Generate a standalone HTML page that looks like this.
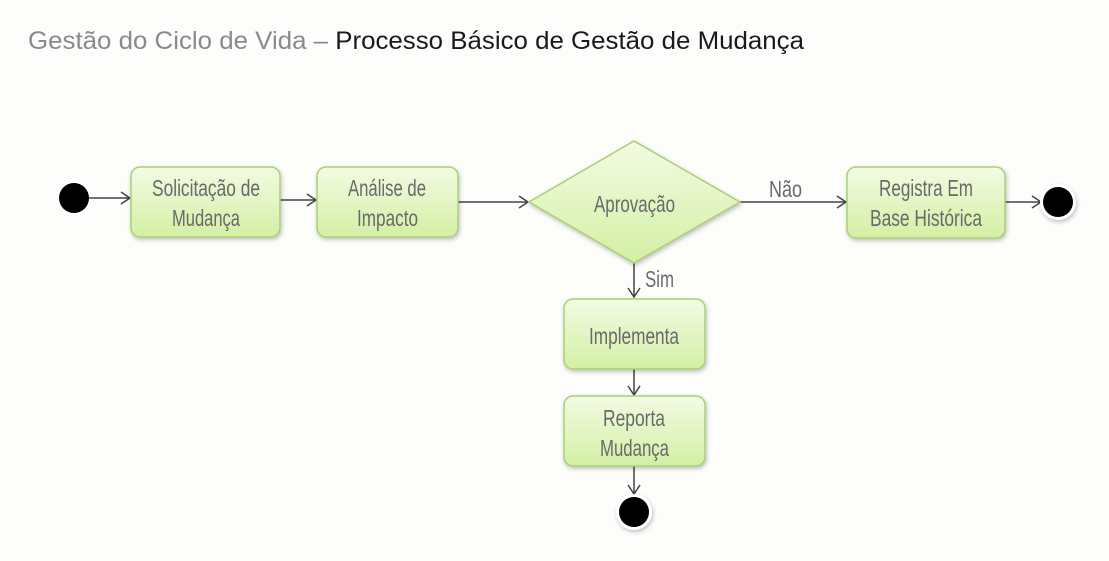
<!DOCTYPE html>
<html><head><meta charset="utf-8"><style>
html,body{margin:0;padding:0;background:#fdfdfb;}
svg{display:block;}
.t{font-family:"Liberation Sans Narrow","Liberation Sans",sans-serif;font-size:23px;fill:#6a6a6a;}
</style></head><body>
<svg width="1109" height="561" viewBox="0 0 1109 561" xmlns="http://www.w3.org/2000/svg">
<defs>
<linearGradient id="g" x1="0" y1="0" x2="0" y2="1">
<stop offset="0" stop-color="#f3fbe3"/><stop offset="1" stop-color="#d3efa4"/>
</linearGradient>
<filter id="s" x="-10%" y="-10%" width="130%" height="140%"><feDropShadow dx="1" dy="2" stdDeviation="2" flood-color="#000" flood-opacity="0.25"/></filter>
</defs>
<rect width="1109" height="561" fill="#fdfdfb"/>
<text x="28" y="49" font-family="Liberation Sans,sans-serif" font-size="25" textLength="776" lengthAdjust="spacingAndGlyphs"><tspan fill="#8a8a8a">Gestão do Ciclo de Vida – </tspan><tspan fill="#1a1a1a">Processo Básico de Gestão de Mudança</tspan></text>

<g stroke="#444" stroke-width="1.5" fill="none">
<path d="M89 198H130M121 192L130 198L121 204"/>
<path d="M280 200H316M307 194L316 200L307 206"/>
<path d="M458 202H528M519 196L528 202L519 208"/>
<path d="M740 202H846M837 196L846 202L837 208"/>
<path d="M1005 202H1041M1032 196L1041 202L1032 208"/>
<path d="M634 263V297M628 288L634 297L640 288"/>
<path d="M634 369V395M628 386L634 395L640 386"/>
<path d="M634 466V494M628 485L634 494L640 485"/>
</g>

<g fill="url(#g)" stroke="#a9cf74" stroke-width="1.5" filter="url(#s)">
<rect x="131" y="167" width="149" height="70" rx="9"/>
<rect x="317" y="167" width="141" height="70" rx="9"/>
<polygon points="634,141 740,202 634,263 529,202"/>
<rect x="847" y="167" width="158" height="71" rx="9"/>
<rect x="564" y="299" width="141" height="70" rx="9"/>
<rect x="564" y="396" width="141" height="70" rx="9"/>
</g>

<circle cx="74" cy="198" r="15" fill="#000"/>
<circle cx="1058" cy="202" r="18" fill="#fff" filter="url(#s)"/>
<circle cx="1058" cy="202" r="15" fill="#000"/>
<circle cx="634" cy="512" r="18" fill="#fff" filter="url(#s)"/>
<circle cx="634" cy="512" r="15" fill="#000"/>

<g class="t">
<text x="152" y="196" textLength="108" lengthAdjust="spacingAndGlyphs">Solicitação de</text>
<text x="172" y="226" textLength="68" lengthAdjust="spacingAndGlyphs">Mudança</text>
<text x="348" y="196" textLength="78" lengthAdjust="spacingAndGlyphs">Análise de</text>
<text x="357" y="226" textLength="61" lengthAdjust="spacingAndGlyphs">Impacto</text>
<text x="594" y="212" textLength="81" lengthAdjust="spacingAndGlyphs">Aprovação</text>
<text x="879" y="196" textLength="94" lengthAdjust="spacingAndGlyphs">Registra Em</text>
<text x="870" y="226" textLength="112" lengthAdjust="spacingAndGlyphs">Base Histórica</text>
<text x="589" y="344" textLength="90" lengthAdjust="spacingAndGlyphs">Implementa</text>
<text x="603" y="426" textLength="62" lengthAdjust="spacingAndGlyphs">Reporta</text>
<text x="600" y="456" textLength="69" lengthAdjust="spacingAndGlyphs">Mudança</text>
<text x="769" y="197" textLength="33" lengthAdjust="spacingAndGlyphs">Não</text>
<text x="645" y="287" textLength="29" lengthAdjust="spacingAndGlyphs">Sim</text>
</g>
</svg>
</body></html>
